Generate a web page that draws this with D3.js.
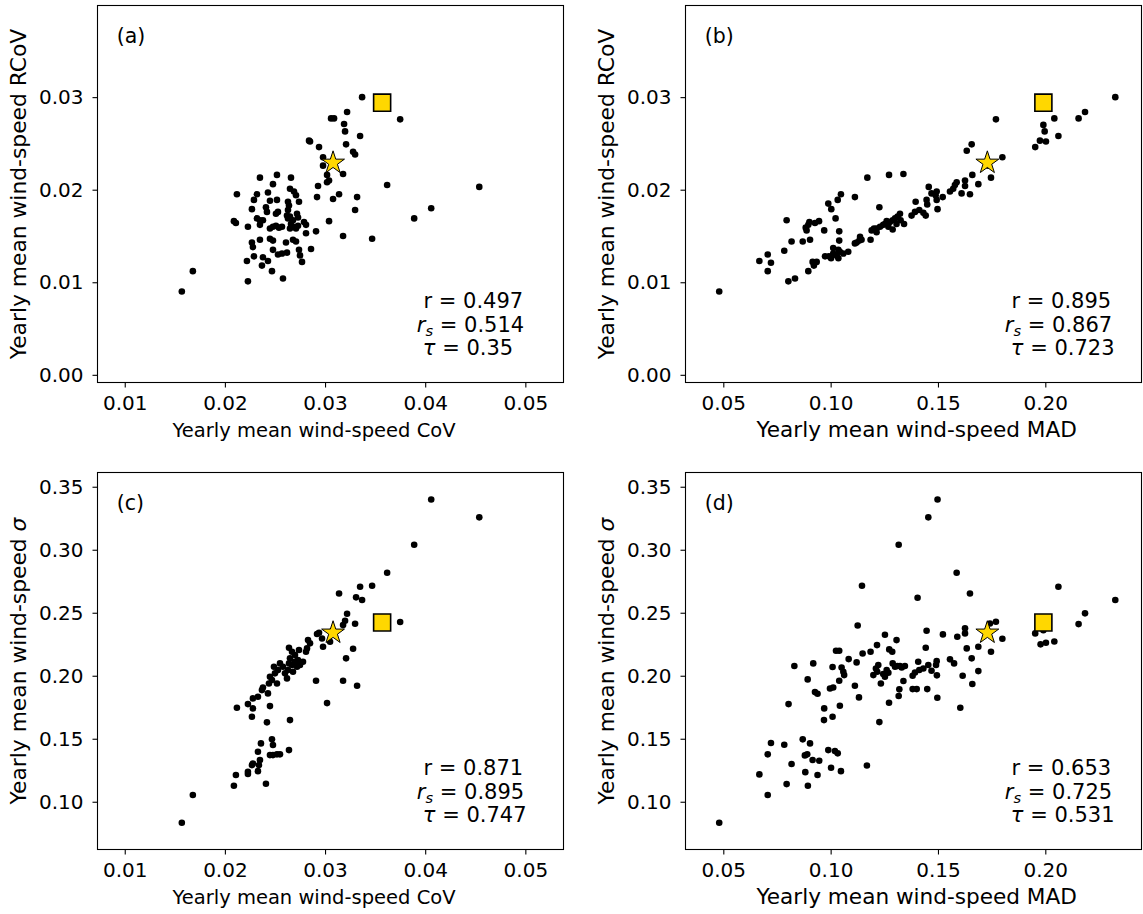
<!DOCTYPE html>
<html><head><meta charset="utf-8">
<script src="https://cdn.jsdelivr.net/npm/d3@7"></script>
<style>
body{margin:0;background:#fff}
svg{display:block}
text{font-family:"DejaVu Sans",sans-serif;fill:#000}
</style>
</head><body>
<svg id="chart" width="1143" height="914"></svg>
<script>
// ---------- data ----------
// (a) CoV vs RCoV
const ptsA = [[0.0157,0.0090],[0.0168,0.0112],[0.0223,0.0101],[0.0258,0.0104],[0.0454,0.0203],[0.0406,0.0180],[0.0389,0.0169],[0.0362,0.0205],[0.0347,0.0147],[0.0318,0.0150],[0.0337,0.0300],[0.0375,0.0276],[0.0322,0.0284],[0.0306,0.0277],[0.0309,0.0277],[0.0319,0.0271],[0.0320,0.0263],[0.0335,0.0258],[0.0284,0.0253],[0.0285,0.0252],[0.0294,0.0246],[0.0321,0.0249],[0.0328,0.0241],[0.0330,0.0238],[0.0298,0.0235],[0.0298,0.0226],[0.0318,0.0217],[0.0302,0.0216],[0.0304,0.0210],[0.0302,0.0208],[0.0293,0.0204],[0.0292,0.0192],[0.0308,0.0190],[0.0314,0.0195],[0.0332,0.0192],[0.0330,0.0178],[0.0304,0.0166],[0.0291,0.0155],[0.0286,0.0136],
[0.0212,0.0195],[0.0235,0.0213],[0.0252,0.0216],[0.0266,0.0213],[0.0248,0.0206],[0.0232,0.0195],[0.0243,0.0197],[0.0229,0.0189],[0.0245,0.0188],[0.0252,0.0189],[0.0265,0.0201],[0.0269,0.0198],[0.0271,0.0194],[0.0263,0.0187],[0.0264,0.0183],[0.0274,0.0187],[0.0227,0.0179],[0.0241,0.0181],[0.0242,0.0176],[0.0253,0.0176],[0.0251,0.0174],[0.0263,0.0178],[0.0272,0.0174],[0.0273,0.0170],[0.0209,0.0166],[0.0211,0.0164],[0.0223,0.0160],[0.0232,0.0169],[0.0235,0.0167],[0.0238,0.0167],[0.0235,0.0162],[0.0245,0.0158],[0.0248,0.0160],[0.0251,0.0161],[0.0254,0.0159],[0.0257,0.0160],[0.0263,0.0169],[0.0266,0.0163],[0.0268,0.0160],[0.0271,0.0158],[0.0265,0.0158],[0.0273,0.0161],[0.0262,0.0172],[0.0265,0.0171],[0.0268,0.0167],[0.0279,0.0165],[0.0281,0.0162],[0.0281,0.0153],[0.0227,0.0143],[0.0228,0.0138],[0.0235,0.0146],[0.0245,0.0147],[0.0248,0.0145],[0.0261,0.0143],[0.0268,0.0146],[0.0271,0.0144],[0.0274,0.0135],[0.0275,0.0129],[0.0238,0.0127],[0.0243,0.0123],[0.0248,0.0135],[0.0253,0.0130],[0.0257,0.0131],[0.0262,0.0132],[0.0229,0.0128],[0.0222,0.0123],[0.0237,0.0118],[0.0247,0.0112],[0.0277,0.0122]];
// (b) MAD vs RCoV
const ptsB = [[0.0481,0.0090],[0.2326,0.0300],[0.2185,0.0284],[0.2155,0.0277],[0.2042,0.0277],[0.1991,0.0270],[0.1997,0.0263],[0.2061,0.0258],[0.1975,0.0253],[0.2003,0.0252],[0.1953,0.0246],[0.1770,0.0276],[0.1657,0.0249],[0.1634,0.0242],[0.1800,0.0235],[0.1734,0.0226],[0.1747,0.0213],[0.1688,0.0206],[0.1660,0.0216],[0.1649,0.0195],[0.1626,0.0210],[0.1626,0.0204],[0.1610,0.0196],[0.1587,0.0208],[0.1579,0.0205],[0.1571,0.0201],[0.1556,0.0198],[0.1522,0.0192],[0.1494,0.0198],[0.1489,0.0194],[0.1470,0.0196],[0.1498,0.0179],[0.1494,0.0189],[0.1457,0.0203],[0.1447,0.0189],[0.1450,0.0184],[0.1443,0.0172],[0.1432,0.0175],[0.1413,0.0178],[0.1396,0.0187],[0.1393,0.0176],[0.1377,0.0172],[0.1339,0.0217],[0.1272,0.0216],[0.1171,0.0213],[0.1113,0.0192],[0.1227,0.0181],
[0.1323,0.0174],[0.1312,0.0171],[0.1300,0.0169],[0.1289,0.0167],[0.1276,0.0165],[0.1261,0.0166],[0.1245,0.0162],[0.1269,0.0160],[0.1289,0.0157],[0.1307,0.0163],[0.1342,0.0163],[0.1326,0.0167],[0.1253,0.0163],[0.1230,0.0160],[0.1214,0.0158],[0.1202,0.0158],[0.1191,0.0156],[0.1214,0.0154],[0.1186,0.0146],[0.1137,0.0149],[0.1144,0.0146],[0.1121,0.0143],[0.1134,0.0145],
[0.1082,0.0133],[0.1059,0.0131],[0.1036,0.0135],[0.1012,0.0131],[0.1002,0.0126],[0.1012,0.0137],[0.1040,0.0145],[0.1040,0.0155],[0.1023,0.0169],[0.1033,0.0189],[0.1048,0.0195],[0.1003,0.0179],[0.0989,0.0185],[0.0970,0.0156],[0.0946,0.0166],[0.0927,0.0164],[0.0901,0.0165],[0.0896,0.0162],[0.0884,0.0159],[0.0888,0.0156],[0.0904,0.0146],[0.0870,0.0144],[0.0818,0.0144],[0.0784,0.0134],[0.0795,0.0167],[0.0707,0.0130],[0.0722,0.0121],[0.0668,0.0123],[0.0707,0.0112],[0.0803,0.0101],[0.0834,0.0104],[0.0896,0.0112],[0.0922,0.0118],[0.0935,0.0122],[0.0916,0.0122],[0.0974,0.0128],[0.0992,0.0128],[0.1028,0.0129],[0.1043,0.0133],[0.1036,0.0126],[0.1113,0.0142]];
// (c) CoV vs sigma
const ptsC = [[0.0157,0.0833],[0.0168,0.1053],[0.0209,0.1127],[0.0211,0.1212],[0.0241,0.1143],
[0.0223,0.1220],[0.0223,0.1238],[0.0227,0.1291],[0.0228,0.1304],[0.0233,0.1243],[0.0234,0.1291],[0.0235,0.1331],[0.0233,0.1397],[0.0236,0.1463],[0.0245,0.1370],[0.0248,0.1370],[0.0252,0.1376],[0.0255,0.1376],[0.0247,0.1495],[0.0248,0.1450],[0.0264,0.1410],[0.0265,0.1648],[0.0242,0.1630],[0.0227,0.1675],[0.0228,0.1741],[0.0212,0.1746],[0.0223,0.1775],[0.0245,0.1759],
[0.0228,0.1820],[0.0233,0.1833],[0.0238,0.1907],[0.0237,0.1886],[0.0243,0.1860],[0.0244,0.1939],[0.0247,0.1966],[0.0245,0.1992],[0.0250,0.2019],[0.0252,0.1939],[0.0249,0.2071],[0.0253,0.2045],[0.0255,0.2098],[0.0258,0.2071],[0.0260,0.2019],[0.0262,0.1979],[0.0263,0.2045],[0.0264,0.2098],[0.0265,0.2138],[0.0267,0.2085],[0.0268,0.2032],[0.0270,0.2111],[0.0272,0.2071],[0.0273,0.2124],[0.0274,0.2204],[0.0275,0.2085],[0.0278,0.2111],[0.0281,0.2190],[0.0283,0.2283],[0.0285,0.2257],[0.0282,0.2217],[0.0264,0.2222],[0.0267,0.2190],[0.0270,0.2164],
[0.0292,0.2331],[0.0294,0.2341],[0.0297,0.2296],[0.0298,0.2230],[0.0305,0.2270],[0.0306,0.2349],[0.0318,0.2402],[0.0320,0.2437],[0.0330,0.2413],[0.0322,0.2492],[0.0314,0.2653],[0.0331,0.2622],[0.0337,0.2601],[0.0335,0.2706],[0.0347,0.2714],[0.0362,0.2817],[0.0389,0.3040],[0.0406,0.3399],[0.0454,0.3257],[0.0375,0.2426],[0.0328,0.2214],[0.0321,0.2138],[0.0291,0.1960],[0.0318,0.1960],[0.0332,0.1921],[0.0302,0.1783]];
// (d) MAD vs sigma
const ptsD = [[0.0481,0.0833],[0.0668,0.1217],[0.0707,0.1053],[0.0707,0.1376],[0.0722,0.1466],[0.0784,0.1452],[0.0795,0.1140],[0.0818,0.1299],[0.0870,0.1495],[0.0880,0.1368],[0.0891,0.1376],[0.0904,0.1463],[0.0882,0.1235],[0.0894,0.1127],[0.0916,0.1331],[0.0947,0.1325],[0.0939,0.1212],[0.0989,0.1410],[0.1020,0.1402],[0.1033,0.1384],[0.1002,0.1270],[0.1048,0.1243],[0.1169,0.1288],
[0.0804,0.1775],[0.0831,0.2077],[0.0893,0.1971],[0.0919,0.2098],[0.0927,0.1870],[0.0939,0.1857],[0.0970,0.1741],[0.0969,0.1648],[0.1009,0.1675],[0.0997,0.1899],[0.1012,0.1907],[0.1009,0.2069],[0.1025,0.2198],[0.1040,0.2198],[0.1040,0.1960],[0.1043,0.1762],[0.1051,0.2066],[0.1059,0.2032],[0.1063,0.2005],[0.1084,0.2132],[0.1113,0.1921],[0.1121,0.2106],[0.1132,0.1828],[0.1126,0.2399],[0.1146,0.2714],[0.1149,0.2177],[0.1186,0.2190],[0.1216,0.2243],[0.1227,0.1632],
[0.1199,0.2005],[0.1211,0.2058],[0.1222,0.2085],[0.1217,0.2032],[0.1234,0.1939],[0.1245,0.2013],[0.1253,0.1992],[0.1261,0.2045],[0.1269,0.2024],[0.1253,0.2325],[0.1273,0.2209],[0.1287,0.2190],[0.1272,0.1786],[0.1289,0.2098],[0.1300,0.2071],[0.1311,0.2077],[0.1323,0.2077],[0.1331,0.2066],[0.1339,0.1958],[0.1320,0.1892],[0.1317,0.1839],[0.1307,0.2283],[0.1346,0.2077],
[0.1317,0.3040],[0.1455,0.3257],[0.1498,0.3399],[0.1405,0.2619],[0.1587,0.2817],[0.1649,0.2653],[0.2061,0.2706],[0.2326,0.2601],[0.2185,0.2495],[0.2155,0.2410],[0.2042,0.2272],[0.2003,0.2262],[0.1978,0.2249],[0.1953,0.2336],[0.1991,0.2362],[0.1770,0.2429],[0.1742,0.2415],[0.1800,0.2294],[0.1747,0.2190],[0.1688,0.2230],[0.1688,0.2037],[0.1657,0.2138],[0.1660,0.1934],[0.1634,0.2217],[0.1626,0.2376],[0.1626,0.2336],[0.1590,0.2310],[0.1615,0.2000],[0.1604,0.1746],[0.1556,0.2130],[0.1575,0.2098],[0.1523,0.2328],[0.1494,0.2116],[0.1491,0.2085],[0.1470,0.2040],[0.1495,0.2003],[0.1497,0.1825],[0.1447,0.2357],[0.1443,0.2222],[0.1450,0.1894],[0.1455,0.2085],[0.1432,0.2058],[0.1408,0.2111],[0.1413,0.2045],[0.1393,0.2026],[0.1382,0.2000],[0.1401,0.1894],[0.1382,0.1894]];

// highlighted stations: [CoV, MAD, RCoV, sigma]
const starStation = [0.0308, 0.1730, 0.0229, 0.2341];
const squareStation = [0.0357, 0.1991, 0.0294, 0.2423];

const xTicksCov = [0.01, 0.02, 0.03, 0.04, 0.05];
const xTicksMad = [0.05, 0.10, 0.15, 0.20];
const yTicksRcov = [0.00, 0.01, 0.02, 0.03];
const yTicksSigma = [0.10, 0.15, 0.20, 0.25, 0.30, 0.35];

const statsA = ["0.497", "0.514", "0.35"];
const statsB = ["0.895", "0.867", "0.723"];
const statsC = ["0.871", "0.895", "0.747"];
const statsD = ["0.653", "0.725", "0.531"];

const panelLabels = ["(a)", "(b)", "(c)", "(d)"];
const xLabelCov = "Yearly mean wind-speed CoV";
const xLabelMad = "Yearly mean wind-speed MAD";
const yLabelRcov = "Yearly mean wind-speed RCoV";
const yLabelSigmaPrefix = "Yearly mean wind-speed ";

// ---------- layout ----------
const svg = d3.select("#chart");
const GOLD = "#FFD700";

const panels = [
  {pts: ptsA, xi: 0, yi: 2, xDom: [0.00728, 0.05381], yDom: [-0.00083, 0.0399], xT: xTicksCov, yT: yTicksRcov,
   L: 97.5, R: 563.5, T: 5.5, B: 382.5, lab: panelLabels[0], stats: statsA, xl: xLabelCov, xlc: 314, xfs: 19.5, sigma: false},
  {pts: ptsB, xi: 1, yi: 2, xDom: [0.03239, 0.24481], yDom: [-0.00083, 0.0399], xT: xTicksMad, yT: yTicksRcov,
   L: 685.5, R: 1141.5, T: 5.5, B: 382.5, lab: panelLabels[1], stats: statsB, xl: xLabelMad, xlc: 916.7, xfs: 21.6, sigma: false},
  {pts: ptsC, xi: 0, yi: 3, xDom: [0.00728, 0.05381], yDom: [0.0621, 0.3613], xT: xTicksCov, yT: yTicksSigma,
   L: 97.5, R: 563.5, T: 472.5, B: 849.5, lab: panelLabels[2], stats: statsC, xl: xLabelCov, xlc: 314, xfs: 19.5, sigma: true},
  {pts: ptsD, xi: 1, yi: 3, xDom: [0.03239, 0.24481], yDom: [0.0621, 0.3613], xT: xTicksMad, yT: yTicksSigma,
   L: 685.5, R: 1141.5, T: 472.5, B: 849.5, lab: panelLabels[3], stats: statsD, xl: xLabelMad, xlc: 916.7, xfs: 21.6, sigma: true}
];

const fmt = d3.format(".2f");

panels.forEach(p => {
  const x = d3.scaleLinear().domain(p.xDom).range([p.L, p.R]);
  const y = d3.scaleLinear().domain(p.yDom).range([p.B, p.T]);
  const g = svg.append("g");

  // axes
  const ax = g.append("g").attr("transform", `translate(0,${p.B})`)
    .call(d3.axisBottom(x).tickValues(p.xT).tickFormat(fmt).tickSize(5).tickPadding(8));
  const ay = g.append("g").attr("transform", `translate(${p.L},0)`)
    .call(d3.axisLeft(y).tickValues(p.yT).tickFormat(fmt).tickSize(5).tickPadding(9));
  [ax, ay].forEach(a => {
    a.select(".domain").remove();
    a.selectAll(".tick line").attr("stroke", "#000").attr("stroke-width", 1.1);
    a.selectAll(".tick text").attr("font-size", "20px").attr("font-family", "DejaVu Sans").attr("fill", "#000");
  });

  // points
  g.append("g").selectAll("circle").data(p.pts).join("circle")
    .attr("cx", d => x(d[0])).attr("cy", d => y(d[1])).attr("r", 3.3).attr("fill", "#000");

  // star
  g.append("path").attr("d", d3.symbol(d3.symbolStar, 162)())
    .attr("transform", `translate(${x(starStation[p.xi])},${y(starStation[p.yi])})`)
    .attr("fill", GOLD).attr("stroke", "#000").attr("stroke-width", 1);
  // square
  g.append("path").attr("d", d3.symbol(d3.symbolSquare, 290)())
    .attr("transform", `translate(${x(squareStation[p.xi])},${y(squareStation[p.yi])})`)
    .attr("fill", GOLD).attr("stroke", "#000").attr("stroke-width", 1.6);

  // frame
  g.append("rect").attr("x", p.L).attr("y", p.T).attr("width", p.R - p.L).attr("height", p.B - p.T)
    .attr("fill", "none").attr("stroke", "#000").attr("stroke-width", 1.1);

  // panel label
  g.append("text").attr("x", p.L + 19.2).attr("y", p.T + 37.5).attr("font-size", "20.5px").text(p.lab);

  // stats: one text block with three lines
  const fs = 21;
  const st = g.append("text").attr("font-size", fs + "px");
  st.append("tspan").attr("x", p.L + 326).attr("y", p.T + 302).text("r = " + p.stats[0]);
  st.append("tspan").attr("x", p.L + 319.3).attr("y", p.T + 326).attr("font-style", "italic").text("r");
  st.append("tspan").attr("font-style", "italic").attr("font-size", (fs * 0.7) + "px").attr("dy", 4.5).text("s");
  st.append("tspan").attr("dy", -4.5).text(" = " + p.stats[1]);
  st.append("tspan").attr("x", p.L + 325.3).attr("y", p.T + 349.5).attr("font-style", "italic").text("τ");
  st.append("tspan").text(" = " + p.stats[2]);

  // x label
  g.append("text").attr("x", p.xlc).attr("y", p.B + 54.5).attr("text-anchor", "middle")
    .attr("font-size", p.xfs + "px").text(p.xl);

  // y label
  const yl = g.append("text").attr("text-anchor", "middle").attr("font-size", "21.8px")
    .attr("transform", `translate(${p.L - 71.5},${(p.T + p.B) / 2}) rotate(-90)`);
  if (p.sigma) {
    yl.append("tspan").text(yLabelSigmaPrefix);
    yl.append("tspan").attr("font-style", "italic").text("σ");
  } else {
    yl.text(yLabelRcov);
  }
});
</script>
</body></html>
